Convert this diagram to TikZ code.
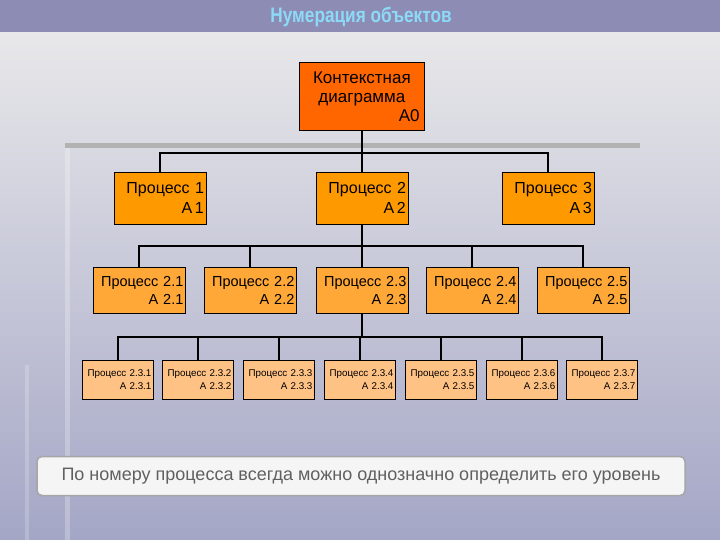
\documentclass[tikz,border=0pt]{standalone}
\usepackage{fontspec}
\setmainfont{Liberation Sans}
\begin{document}
\begin{tikzpicture}[x=1pt,y=-1pt,
  box/.style={draw=black,line width=0.8pt,anchor=north west,inner sep=0pt,align=right,font=\fontsize{16}{20}\selectfont},
  conn/.style={line width=2pt,black}]
\definecolor{barc}{HTML}{8C8CB4}
\definecolor{c0}{HTML}{FF6600}
\definecolor{c1}{HTML}{FF9900}
\definecolor{c2}{HTML}{FFA838}
\definecolor{c3}{HTML}{FFC285}
\definecolor{bgt}{HTML}{E8E8EA}
\definecolor{bgb}{HTML}{A4A6C6}
\useasboundingbox (0,0) rectangle (720,540);
\shade[top color=bgt, bottom color=bgb] (0,32) rectangle (720,540);
\fill[barc] (0,0) rectangle (720,32);
\fill[gray!60] (65,143) rectangle (640,148);
\fill[white,opacity=0.25] (65,148) rectangle (70,540);
\fill[white,opacity=0.2] (25,365) rectangle (29,540);
\node[font=\bfseries\fontsize{21}{22}\selectfont,text=cyan!45!white,xscale=0.82] (title) at (361,17) {Нумерация объектов};
% level 0
\node[box,fill=c0,minimum width=125,minimum height=68,text width=121,font=\fontsize{17}{19}\selectfont] (a0) at (299,62) {\centering Контекстная\\ диаграмма\\ \hfill A0\,};
% level 1
\foreach \n/\x/\t in {p1/114/1, p2/316/2, p3/502/3}
  \node[box,fill=c1,minimum width=92,minimum height=52,text width=87] (\n) at (\x,172) {Процесс \t\\ A\,\t};
% level 2
\foreach \n/\x/\t in {q1/93/1, q2/204/2, q3/316/3, q4/426/4, q5/537/5}
  \node[box,fill=c2,minimum width=92,minimum height=46,text width=88,font=\fontsize{14.5}{18}\selectfont] (\n) at (\x,267) {Процесс 2.\t\\ A 2.\t};
% level 3
\foreach \n/\x/\t in {r1/82/1, r2/162/2, r3/243/3, r4/324/4, r5/405/5, r6/486/6, r7/566/7}
  \node[box,fill=c3,minimum width=71,minimum height=39,text width=67,font=\fontsize{9.8}{13}\selectfont] (\n) at (\x,360) {Процесс 2.3.\t\\ A 2.3.\t};
% connectors
\coordinate (b1) at (0,153);
\draw[conn] (a0.south) -- (a0.south |- b1);
\draw[conn] (p1.north) -- (p1.north |- b1) -- (p3.north |- b1) -- (p3.north);
\draw[conn] (p2.north) -- (p2.north |- b1);
\coordinate (b2) at (0,246);
\draw[conn] (p2.south) -- (p2.south |- b2);
\draw[conn] (q1.north) -- (q1.north |- b2) -- (q5.north |- b2) -- (q5.north);
\foreach \n in {q2,q3,q4} \draw[conn] (\n.north) -- (\n.north |- b2);
\coordinate (b3) at (0,337);
\draw[conn] (q3.south) -- (q3.south |- b3);
\draw[conn] (r1.north) -- (r1.north |- b3) -- (r7.north |- b3) -- (r7.north);
\foreach \n in {r2,r3,r4,r5,r6} \draw[conn] (\n.north) -- (\n.north |- b3);
% note
\node[draw=gray!70,line width=1.5pt,fill=gray!8,rounded corners=5pt,minimum width=648,minimum height=39,text=gray!75!black,font=\fontsize{18}{20}\selectfont] (note) at (361,476) {По номеру процесса всегда можно однозначно определить его уровень};
\end{tikzpicture}
\end{document}
